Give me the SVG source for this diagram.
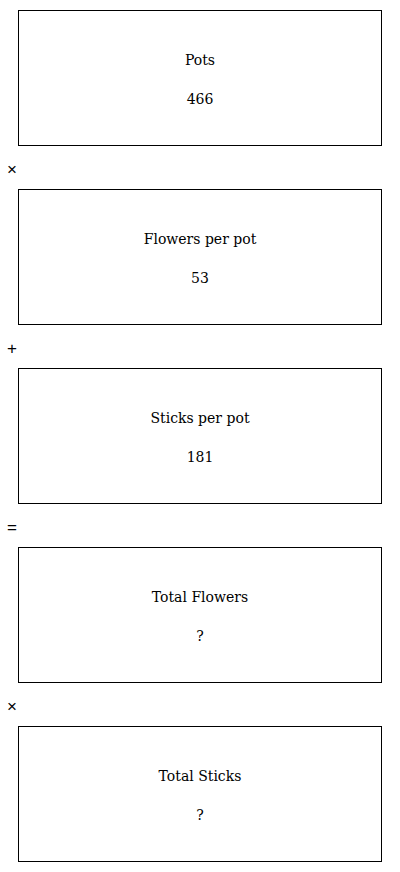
<svg xmlns="http://www.w3.org/2000/svg" width="400" height="872" viewBox="0 0 400 872">
<style>
.box{fill:#fff;stroke:#000;stroke-width:1}
.t{font-family:"DejaVu Serif",serif;font-size:14px;fill:#000;text-anchor:middle}
.op{font-family:"Liberation Sans",sans-serif;font-size:17px;fill:#000}
</style>
<rect width="400" height="872" fill="#fff"/>
<g id="pots"><rect class="box" x="18.5" y="10.5" width="363" height="135"/><text class="t" x="200" y="65">Pots</text><text class="t" x="200" y="104">466</text></g>
<g id="flowers"><rect class="box" x="18.5" y="189.5" width="363" height="135"/><text class="t" x="200" y="244">Flowers per pot</text><text class="t" x="200" y="283">53</text></g>
<g id="sticks"><rect class="box" x="18.5" y="368.5" width="363" height="135"/><text class="t" x="200" y="423">Sticks per pot</text><text class="t" x="200" y="462">181</text></g>
<g id="totalflowers"><rect class="box" x="18.5" y="547.5" width="363" height="135"/><text class="t" x="200" y="602">Total Flowers</text><text class="t" x="200" y="641">?</text></g>
<g id="totalsticks"><rect class="box" x="18.5" y="726.5" width="363" height="135"/><text class="t" x="200" y="781">Total Sticks</text><text class="t" x="200" y="820">?</text></g>
<g id="connectors">
<text class="op" x="7" y="175">×</text>
<text class="op" x="7" y="354">+</text>
<text class="op" x="7" y="533">=</text>
<text class="op" x="7" y="712">×</text>
</g>
</svg>
